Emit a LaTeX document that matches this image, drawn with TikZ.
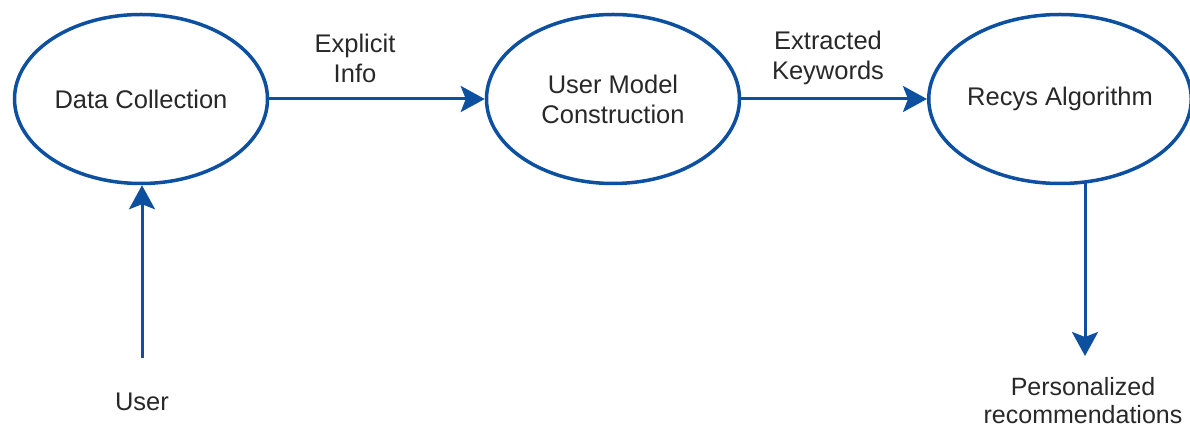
\documentclass[tikz,border=0pt]{standalone}
\usepackage{fontspec}
\setmainfont{Liberation Sans}
\usetikzlibrary{arrows.meta,shapes.geometric}
\definecolor{flowblue}{RGB}{14,80,160}
\definecolor{txt}{RGB}{40,40,40}
\begin{document}
\begin{tikzpicture}[x=1pt,y=-1pt,
  every node/.style={text=txt,font=\fontsize{25.5}{30}\selectfont,align=center,inner sep=0pt},
  stage/.style={ellipse,draw=flowblue,line width=3.5pt,fill=white,
                minimum width=253pt,minimum height=169pt},
  flow/.style={draw=flowblue,line width=3pt,
               -{Stealth[length=24pt,width=26pt,inset=5pt]}}]
  \useasboundingbox (0,0) rectangle (1190,427);

  % process stages
  \node[stage] (dc)  at (141,99)  {Data Collection};
  \node[stage] (umc) at (613,99)  {User Model\\Construction};
  \node[stage] (rec) at (1060,99) {Recys Algorithm};

  % edge labels
  \node (lab1) at (355,58) {Explicit\\Info};
  \node (lab2) at (828,58) {Extracted\\Keywords};

  % free ends
  \node (user) at (142,402) {User};
  \coordinate (userTop) at (142,358);
  \coordinate (recOut) at (1085,183);
  \coordinate (recEnd) at (1085,356);
  \node[font=\fontsize{25}{28}\selectfont] (pers) at (1083,401) {Personalized\\recommendations};

  % connectors
  \draw[flow] (dc) -- (umc);
  \draw[flow] (umc) -- (rec);
  \draw[flow] (userTop) -- (userTop |- dc.south);
  \draw[flow] (recOut) -- (recEnd);
\end{tikzpicture}
\end{document}
